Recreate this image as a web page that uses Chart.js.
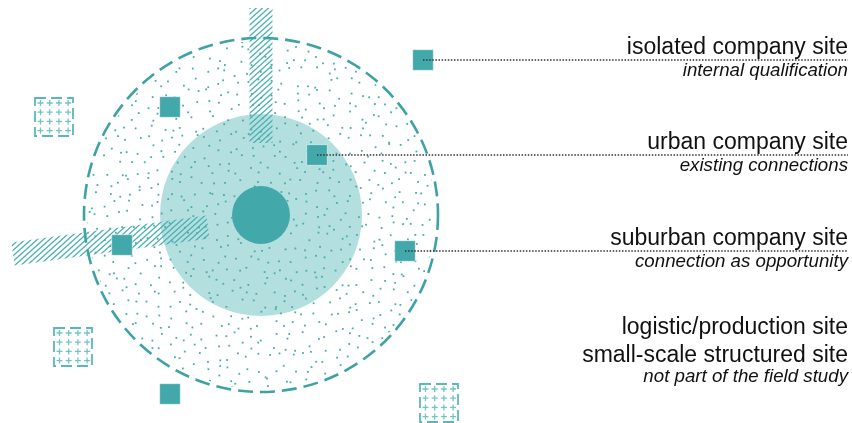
<!DOCTYPE html>
<html>
<head>
<meta charset="utf-8">
<script src="https://cdn.jsdelivr.net/npm/chart.js@4.4.1/dist/chart.umd.min.js"></script>
<style>
body{margin:0;background:#fff;}
#wrap{width:852px;height:423px;position:relative;}
</style>
</head>
<body>
<div id="wrap"><canvas id="diagram"></canvas></div>
<script>
// zones round the city core
const zoneCenter = [261, 215];
const zoneRadius = [29, 101, 177]; // core, urban, suburban

// transport corridors, start and end point
const corridorStart = [[261, 8], [13, 254]];
const corridorEnd = [[261, 143], [208, 227]];

// company sites of the field study
const siteLabels = ["isolated company site", "urban company site", "suburban company site"];
const siteNotes = ["internal qualification", "existing connections", "connection as opportunity"];
const siteX = [423, 317, 405];
const siteY = [60, 155, 251];

// further sites without a label
const extraX = [170, 122, 170];
const extraY = [107, 245, 394];

// sites outside the field study
const outsideX = [54, 73, 439];
const outsideY = [117, 347, 403];
const outsideLabels = ["logistic/production site", "small-scale structured site"];
const outsideNote = "not part of the field study";

const labelX = 848;

const teal = "#42a8aa";
const lightTeal = "#b3dfdf";

// small hash so the stipple is always the same
function hash(i, j) {
  const s = Math.sin(i * 12.9898 + j * 78.233) * 43758.5453;
  return s - Math.floor(s);
}

const zones = {
  id: "zones",
  beforeDatasetsDraw(chart) {
    const ctx = chart.ctx;
    const xs = chart.scales.x, ys = chart.scales.y;
    const cx = xs.getPixelForValue(zoneCenter[0]);
    const cy = ys.getPixelForValue(zoneCenter[1]);
    const rr = zoneRadius.map(r => xs.getPixelForValue(zoneCenter[0] + r) - cx);
    ctx.save();

    // urban zone
    ctx.fillStyle = lightTeal;
    ctx.beginPath();
    ctx.arc(cx, cy, rr[1], 0, Math.PI * 2);
    ctx.fill();

    // stipple of the suburban zone
    ctx.save();
    ctx.beginPath();
    ctx.arc(cx, cy, rr[2] - 3, 0, Math.PI * 2);
    ctx.clip();
    ctx.fillStyle = "#4aabad";
    const step = 11;
    for (let i = 0; i * step < rr[2] * 2 + step; i++) {
      for (let j = 0; j * step < rr[2] * 2 + step; j++) {
        const dx = cx - rr[2] + i * step + (hash(i, j) - 0.5) * step * 0.9;
        const dy = cy - rr[2] + j * step + (hash(j + 7, i + 3) - 0.5) * step * 0.9;
        ctx.fillRect(dx, dy, 1.8, 1.8);
      }
    }
    ctx.restore();

    // core
    ctx.fillStyle = teal;
    ctx.beginPath();
    ctx.arc(cx, cy, rr[0], 0, Math.PI * 2);
    ctx.fill();

    // hatched corridors
    const ang = 42 * Math.PI / 180;
    const d = [Math.cos(ang), -Math.sin(ang)];
    const n = [Math.sin(ang), Math.cos(ang)];
    corridorStart.forEach((s, k) => {
      const e = corridorEnd[k];
      const x0 = xs.getPixelForValue(s[0]), y0 = ys.getPixelForValue(s[1]);
      const x1 = xs.getPixelForValue(e[0]), y1 = ys.getPixelForValue(e[1]);
      const len = Math.hypot(x1 - x0, y1 - y0);
      const px = -(y1 - y0) / len * 11.5, py = (x1 - x0) / len * 11.5;
      ctx.save();
      ctx.beginPath();
      ctx.moveTo(x0 + px, y0 + py);
      ctx.lineTo(x1 + px, y1 + py);
      ctx.lineTo(x1 - px, y1 - py);
      ctx.lineTo(x0 - px, y0 - py);
      ctx.closePath();
      ctx.clip();
      ctx.strokeStyle = "#4bb0b2";
      ctx.lineWidth = 1.3;
      const cmin = Math.min(x0, x1) * n[0] + Math.min(y0, y1) * n[1] - 40;
      const cmax = Math.max(x0, x1) * n[0] + Math.max(y0, y1) * n[1] + 40;
      for (let c = cmin; c < cmax; c += 4.1) {
        ctx.beginPath();
        ctx.moveTo(c * n[0] - d[0] * 600, c * n[1] - d[1] * 600);
        ctx.lineTo(c * n[0] + d[0] * 600, c * n[1] + d[1] * 600);
        ctx.stroke();
      }
      ctx.restore();
    });

    // dashed edge of the suburban zone
    ctx.strokeStyle = "#3ea2a4";
    ctx.lineWidth = 2.6;
    ctx.setLineDash([15, 7]);
    ctx.beginPath();
    ctx.arc(cx, cy, rr[2], 0, Math.PI * 2);
    ctx.stroke();
    ctx.setLineDash([]);

    // sites outside the study: dashed box with crosses
    outsideX.forEach((ox, k) => {
      const bx = xs.getPixelForValue(ox) - 19;
      const by = ys.getPixelForValue(outsideY[k]) - 19;
      ctx.strokeStyle = "#5ab8ba";
      ctx.lineWidth = 1.8;
      ctx.setLineDash([11, 5]);
      ctx.strokeRect(bx, by, 38, 38);
      ctx.setLineDash([]);
      ctx.strokeStyle = "#74c3c4";
      ctx.lineWidth = 1.3;
      for (let a = 0; a < 4; a++) {
        for (let b = 0; b < 4; b++) {
          const qx = bx + 5.5 + a * 9.2, qy = by + 5 + b * 9.2;
          ctx.beginPath();
          ctx.moveTo(qx - 3, qy); ctx.lineTo(qx + 3, qy);
          ctx.moveTo(qx, qy - 3); ctx.lineTo(qx, qy + 3);
          ctx.stroke();
        }
      }
    });
    ctx.restore();
  },
  afterDraw(chart) {
    const ctx = chart.ctx;
    const xs = chart.scales.x, ys = chart.scales.y;
    const rx = xs.getPixelForValue(labelX);
    ctx.save();
    ctx.textAlign = "right";
    ctx.textBaseline = "alphabetic";
    ctx.fillStyle = "#111";
    siteLabels.forEach((t, k) => {
      const ly = ys.getPixelForValue(siteY[k]);
      ctx.font = "23px 'Liberation Sans', Arial, sans-serif";
      ctx.fillText(t, rx, ly - 6.5);
      ctx.font = "italic 18.7px 'Liberation Sans', Arial, sans-serif";
      ctx.fillText(siteNotes[k], rx, ly + 16);
    });
    ctx.font = "23px 'Liberation Sans', Arial, sans-serif";
    ctx.fillText(outsideLabels[0], rx, ys.getPixelForValue(334));
    ctx.fillText(outsideLabels[1], rx, ys.getPixelForValue(362));
    ctx.font = "italic 18.7px 'Liberation Sans', Arial, sans-serif";
    ctx.fillText(outsideNote, rx, ys.getPixelForValue(382));
    ctx.restore();
  }
};

const leaderSets = siteX.map((sx, k) => ({
  type: "line",
  data: [{x: sx, y: siteY[k]}, {x: labelX, y: siteY[k]}],
  borderColor: "#333",
  borderWidth: 1.4,
  borderDash: [1.5, 1.6],
  pointRadius: 0,
  order: 0
}));

const squares = {
  type: "scatter",
  data: siteX.map((sx, k) => ({x: sx, y: siteY[k]}))
    .concat(extraX.map((ex, k) => ({x: ex, y: extraY[k]}))),
  pointStyle: "rect",
  pointRadius: 14.6,
  backgroundColor: teal,
  borderColor: "rgba(255,255,255,0.55)",
  borderWidth: 1,
  order: 1
};

new Chart(document.getElementById("diagram"), {
  type: "scatter",
  data: { datasets: leaderSets.concat([squares]) },
  options: {
    responsive: true,
    maintainAspectRatio: false,
    animation: false,
    events: [],
    layout: { padding: 0, autoPadding: false },
    plugins: { legend: { display: false }, tooltip: { enabled: false } },
    scales: {
      x: { type: "linear", min: 0, max: 852, display: false },
      y: { type: "linear", min: 0, max: 423, reverse: true, display: false }
    }
  },
  plugins: [zones]
});
</script>
</body>
</html>
